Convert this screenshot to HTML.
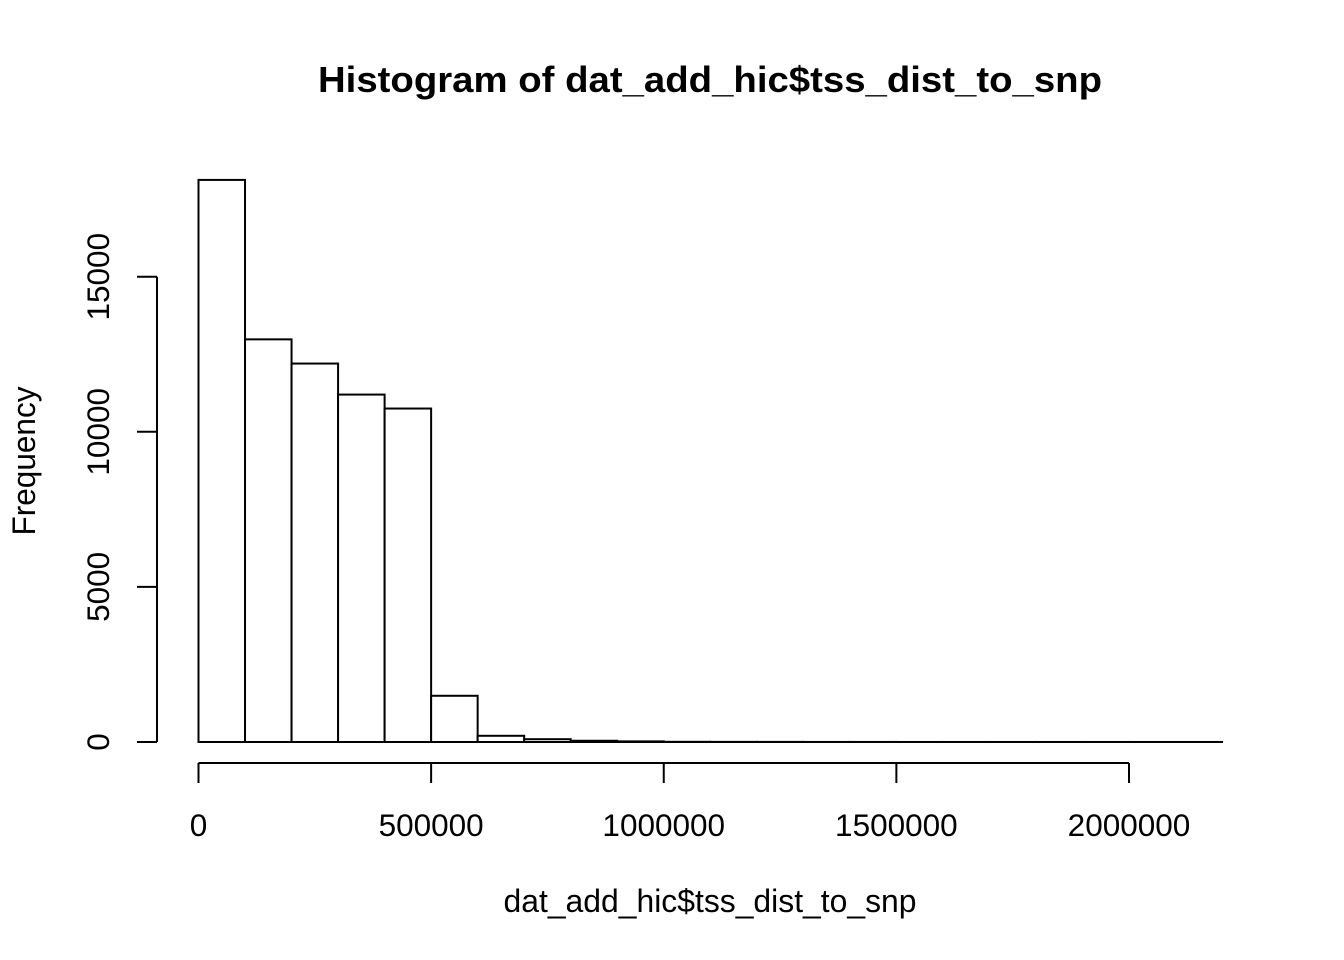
<!DOCTYPE html>
<html><head><meta charset="utf-8"><style>
body{margin:0;background:#fff}
svg{display:block;font-family:"Liberation Sans",Arial,sans-serif}
</style></head><body>
<svg id="chart" width="1344" height="960">
<text x="710" y="92" text-anchor="middle" font-size="36" font-weight="bold" textLength="784" lengthAdjust="spacingAndGlyphs">Histogram of dat_add_hic$tss_dist_to_snp</text>
<text x="710" y="912" text-anchor="middle" font-size="32" textLength="413" lengthAdjust="spacingAndGlyphs">dat_add_hic$tss_dist_to_snp</text>
<text transform="translate(35,461) rotate(-90)" text-anchor="middle" font-size="32" textLength="149" lengthAdjust="spacingAndGlyphs">Frequency</text>
<g id="bars"></g><g id="xaxis"></g><g id="yaxis"></g>
</svg>
<script>
const binStarts=[0,100000,200000,300000,400000,500000,600000,700000,800000,900000,1000000,1100000,1200000,1300000,1400000,1500000,1600000,1700000,1800000,1900000,2000000,2100000];
const counts=[18120,12980,12200,11200,10750,1490,200,90,40,20,6,4,3,2,2,1,1,1,1,1,1,1];
const binWidth=100000;
const xTicks=[0,500000,1000000,1500000,2000000];
const yTicks=[0,5000,10000,15000];
const X=v=>198.5+v*(1129-198.5)/2000000;
const Y=v=>742-v*(742-276.7)/15000;
const ns="http://www.w3.org/2000/svg";
function mk(t,a,p){const e=document.createElementNS(ns,t);for(const k in a)e.setAttribute(k,a[k]);p.appendChild(e);return e;}
const bars=document.getElementById('bars');
binStarts.forEach((b,i)=>{
 const r=mk('rect',{x:X(b),y:Y(counts[i]),width:X(b+binWidth)-X(b),height:Y(0)-Y(counts[i]),fill:'#fff',stroke:'#000','stroke-width':2},bars);
 
 
});
const xa=document.getElementById('xaxis');
const xl=mk('line',{x1:X(xTicks[0]),x2:X(xTicks[xTicks.length-1]),y1:763,y2:763,stroke:'#000','stroke-width':2},xa);


xTicks.forEach(t=>{
 mk('line',{x1:X(t),x2:X(t),y1:763,y2:783,stroke:'#000','stroke-width':2},xa);
 const tx=mk('text',{x:X(t),y:836,'text-anchor':'middle','font-size':31.5},xa);
 tx.textContent=String(t);
 
 
});
const ya=document.getElementById('yaxis');
const yl=mk('line',{x1:157,x2:157,y1:Y(yTicks[0]),y2:Y(yTicks[yTicks.length-1]),stroke:'#000','stroke-width':2},ya);


yTicks.forEach(t=>{
 mk('line',{x1:137,x2:157,y1:Y(t),y2:Y(t),stroke:'#000','stroke-width':2},ya);
 const tx=mk('text',{transform:`translate(109,${Y(t)}) rotate(-90)`,'text-anchor':'middle','font-size':31.5},ya);
 tx.textContent=String(t);
 
 
});
</script>
</body></html>
